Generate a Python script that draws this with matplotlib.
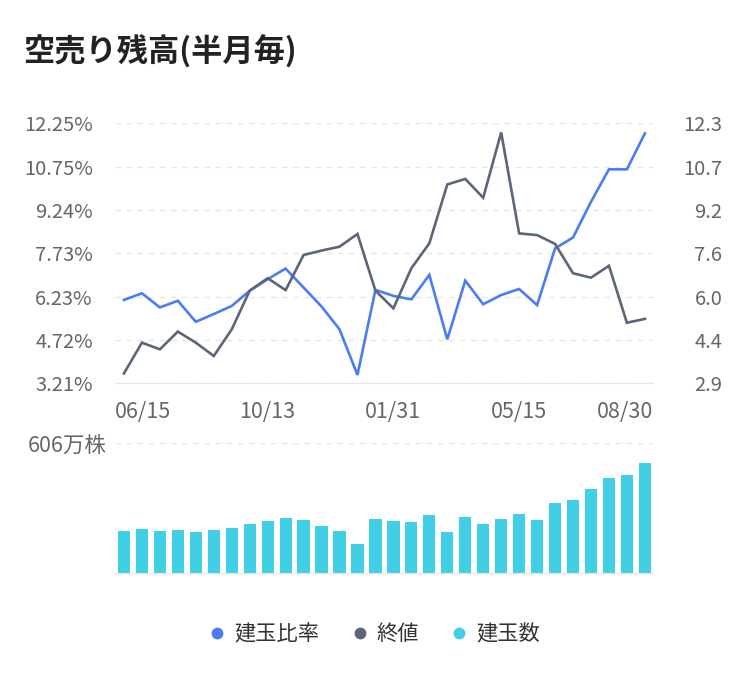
import matplotlib
matplotlib.use("Agg")
import matplotlib.pyplot as plt
from matplotlib.lines import Line2D
import numpy as np

plt.rcParams['font.family'] = ['Noto Sans CJK JP', 'DejaVu Sans']

# 半月毎のデータ (06/15 ～ 08/30, 30 点)
ratio = [6.11, 6.34, 5.85, 6.08, 5.35, 5.62, 5.90, 6.43, 6.83, 7.20,
         6.54, 5.88, 5.09, 3.50, 6.46, 6.25, 6.13, 6.98, 4.74, 6.78,
         5.96, 6.28, 6.49, 5.93, 7.90, 8.28, 9.52, 10.65, 10.65, 11.90]
close = [3.26, 4.37, 4.13, 4.77, 4.37, 3.89, 4.85, 6.25, 6.70, 6.27,
         7.54, 7.70, 7.84, 8.30, 6.25, 5.61, 7.06, 7.96, 10.09, 10.29,
         9.61, 11.97, 8.32, 8.26, 7.94, 6.88, 6.72, 7.15, 5.09, 5.23]
shares = [197, 205, 196, 204, 193, 202, 213, 230, 244, 258,
          249, 222, 199, 138, 252, 246, 239, 272, 191, 264,
          232, 255, 274, 250, 326, 342, 393, 444, 458, 513]

date_labels = ['06/15', '10/13', '01/31', '05/15', '08/30']
date_idx = [0, 8, 15, 22, 29]
left_labels = ['3.21%', '4.72%', '6.23%', '7.73%', '9.24%', '10.75%', '12.25%']
right_labels = ['2.9', '4.4', '6.0', '7.6', '9.2', '10.7', '12.3']
bar_max = 606
legend_labels = ['建玉比率', '終値', '建玉数']

blue = '#4C7CF3'
gray = '#5B6679'
cyan = '#41CFE6'
grid_c = '#e6e6e6'
tick_c = '#666666'

x = np.arange(len(ratio))
xlim = (-0.5, 29.45)

fig = plt.figure(figsize=(7.5, 6.75), dpi=100)
ax = fig.add_axes([0.1533, 0.4321, 0.7173, 0.3852])
ax2 = ax.twinx()
axb = fig.add_axes([0.1533, 0.1507, 0.7173, 0.1926])

# 上段: 折れ線
ax.plot(x, ratio, color=blue, lw=1.9, solid_joinstyle='miter')
ax2.plot(x, close, color=gray, lw=1.9, solid_joinstyle='miter')

ax.set_xlim(*xlim)
ax.set_ylim(3.21, 12.25)
ax2.set_ylim(2.9, 12.3)
ax.set_yticks(np.linspace(3.21, 12.25, 7), left_labels)
ax2.set_yticks(np.linspace(2.9, 12.3, 7), right_labels)

ax.grid(axis='y', color=grid_c, lw=1, linestyle=(0, (4, 4)))
ax.set_axisbelow(True)
for a in (ax, ax2):
    for s in a.spines.values():
        s.set_visible(False)
ax.spines['bottom'].set_visible(True)
ax.spines['bottom'].set_color(grid_c)

ax.tick_params(axis='y', length=0, pad=16, labelsize=14.5, labelcolor=tick_c)
ax2.tick_params(axis='y', length=0, pad=50, labelsize=14.5, labelcolor=tick_c)
for t in ax2.get_yticklabels():
    t.set_ha('right')

# 日付ラベル (端のラベルは軸の端に揃える)
pos = [xlim[0] if i == 0 else xlim[1] if i == len(x) - 1 else i for i in date_idx]
ax.set_xticks(pos, date_labels)
ax.tick_params(axis='x', length=0, pad=13, labelsize=15.5, labelcolor=tick_c)
xt = ax.get_xticklabels()
xt[0].set_ha('left')
xt[-1].set_ha('right')

# 下段: 建玉数
axb.bar(x, shares, width=0.68, color=cyan)
axb.set_xlim(*xlim)
axb.set_ylim(0, bar_max)
axb.set_xticks([])
axb.set_yticks([bar_max], [f'{bar_max}万株'])
axb.tick_params(axis='y', length=0, pad=6, labelsize=15.5, labelcolor=tick_c)
axb.grid(axis='y', color=grid_c, lw=1, linestyle=(0, (4, 4)))
axb.set_axisbelow(True)
for s in axb.spines.values():
    s.set_visible(False)
axb.spines['bottom'].set_visible(True)
axb.spines['bottom'].set_color(grid_c)

fig.text(0.031, 0.923, '空売り残高(半月毎)', fontsize=22.5, fontweight='bold',
         color='#222222', va='center')

handles = [Line2D([], [], ls='none', marker='o', ms=7.5, color=c) for c in (blue, gray, cyan)]
fig.legend(handles, legend_labels, loc='center', bbox_to_anchor=(0.5, 0.0607), ncol=3,
           frameon=False, fontsize=15.3, handlelength=0.7, handletextpad=0.45,
           columnspacing=1.55, labelcolor='#333333')

fig.savefig('out.png', dpi=100)
